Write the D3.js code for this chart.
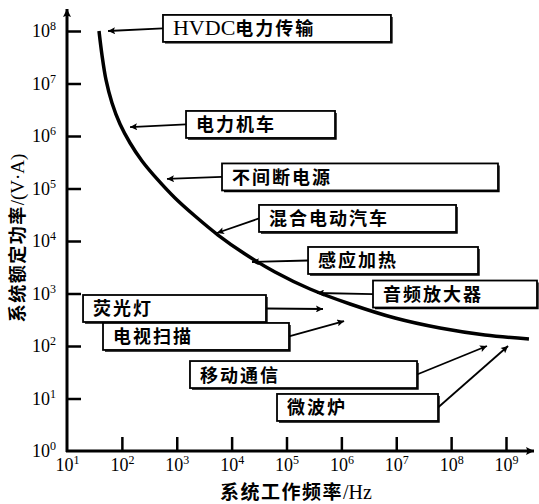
<!DOCTYPE html>
<html>
<head>
<meta charset="utf-8">
<script src="https://cdn.jsdelivr.net/npm/d3@7/dist/d3.min.js"></script>
<style>
  body { margin: 0; background: #fff; }
  svg { display: block; }
</style>
</head>
<body>
<svg id="chart" width="539" height="504"></svg>
<script>
"use strict";

// boundary curve: frequency (Hz) vs rated power (V·A)
const curve_freq  = [38.3, 43.4, 51.4, 66.1, 92.4, 141, 233, 437, 929, 2150, 5650, 17540, 61700, 2.68e5, 1.44e6, 9.49e6, 6.27e7, 4.14e8, 2.62e9]
const curve_power = [1e8, 3.49e7, 1.17e7, 4.25e6, 1.69e6, 7.36e5, 3.34e5, 1.52e5, 6.59e4, 2.99e4, 1.3e4, 5650, 2570, 1218, 631, 341, 220, 162, 136]

// tick values
const x_ticks = [1e1, 1e2, 1e3, 1e4, 1e5, 1e6, 1e7, 1e8, 1e9]
const y_ticks = [1e0, 1e1, 1e2, 1e3, 1e4, 1e5, 1e6, 1e7, 1e8]

// application labels, box span (Hz) and level (V·A), arrow tips
const app_names  = ['HVDC电力传输', '电力机车', '不间断电源', '混合电动汽车', '感应加热', '音频放大器', '荧光灯', '电视扫描', '移动通信', '微波炉']
const box_from   = [561, 1476, 6680, 31550, 2.47e5, 3.77e6, 19.6, 45.3, 1742, 67140]
const box_to     = [8.0e6, 7.66e5, 7.14e8, 1.23e8, 3.09e8, 3.67e9, 42270, 1.11e5, 2.39e7, 5.77e7]
const box_level  = [1.12e8, 1.66e6, 1.66e5, 2.69e4, 4256, 977, 518, 152, 28.6, 6.75]
const tip_freq   = [56, 141, 664, 5400, 23500, 3.6e5, 4.62e5, 1.12e6, 4.5e8, 1.09e9]
const tip_power  = [1e8, 1.48e6, 1.52e5, 1.42e4, 3981, 1023, 507, 299, 100, 100]

const x_title = ['系统工作频率', '/Hz']
const y_title = ['系统额定功率', '/(V·A)']

const cjk = '"Noto Sans CJK SC", "Noto Sans", sans-serif'
const serif = '"Liberation Serif", "DejaVu Serif", serif'

const x = d3.scaleLog().domain([1e1, 1e9]).range([67, 506])
const y = d3.scaleLog().domain([1e0, 1e8]).range([451, 31])

const svg = d3.select('#chart')

const defs = svg.append('defs')
defs.append('marker')
   .attr('id', 'tip')
   .attr('viewBox', '0 0 10 10')
   .attr('refX', 10).attr('refY', 5)
   .attr('markerWidth', 9).attr('markerHeight', 7)
   .attr('markerUnits', 'userSpaceOnUse')
   .attr('orient', 'auto')
   .append('path').attr('d', 'M0,0 L10,5 L0,10 L2,5 Z').attr('fill', '#000')
defs.append('marker')
   .attr('id', 'axtip')
   .attr('viewBox', '0 0 10 10')
   .attr('refX', 10).attr('refY', 5)
   .attr('markerWidth', 10).attr('markerHeight', 8)
   .attr('markerUnits', 'userSpaceOnUse')
   .attr('orient', 'auto')
   .append('path').attr('d', 'M0,0 L10,5 L0,10 L2,5 Z').attr('fill', '#000')

function pow_label(sel) {
   sel.each(function (d) {
      const t = d3.select(this)
      const e = Math.round(Math.log10(d))
      t.text(null)
      t.append('tspan').text('10')
      t.append('tspan').attr('font-size', 12).attr('dy', -7).text(e)
   })
}

// y axis
const gy = svg.append('g').attr('transform', 'translate(67,0)')
   .call(d3.axisLeft(y).tickValues(y_ticks).tickSizeInner(-14).tickSizeOuter(0).tickPadding(11))
gy.select('.domain').remove()
gy.selectAll('.tick line').attr('stroke', '#000').attr('stroke-width', 2.5)
   .filter(d => d === 1).remove()
gy.selectAll('.tick text')
   .attr('font-family', serif).attr('font-size', 18).attr('fill', '#000')
   .call(pow_label)

// x axis
const gx = svg.append('g').attr('transform', 'translate(0,451)')
   .call(d3.axisBottom(x).tickValues(x_ticks).tickSizeInner(-14).tickSizeOuter(0).tickPadding(7))
gx.select('.domain').remove()
gx.selectAll('.tick line').attr('stroke', '#000').attr('stroke-width', 2.5)
   .filter(d => d === 10).remove()
gx.selectAll('.tick text')
   .attr('font-family', serif).attr('font-size', 18).attr('fill', '#000')
   .call(pow_label)

// axis lines with arrows
svg.append('line')
   .attr('x1', 67).attr('y1', 452).attr('x2', 67).attr('y2', 9)
   .attr('stroke', '#000').attr('stroke-width', 3).attr('marker-end', 'url(#axtip)')
svg.append('line')
   .attr('x1', 66).attr('y1', 451).attr('x2', 534).attr('y2', 451)
   .attr('stroke', '#000').attr('stroke-width', 3).attr('marker-end', 'url(#axtip)')

// boundary curve
const line = d3.line()
   .x(d => x(d[0]))
   .y(d => y(d[1]))
   .curve(d3.curveCatmullRom.alpha(0.5))
svg.append('path')
   .datum(d3.zip(curve_freq, curve_power))
   .attr('d', line)
   .attr('fill', 'none')
   .attr('stroke', '#000')
   .attr('stroke-width', 3.5)

// application boxes and arrows
const apps = app_names.map((name, i) => ({
   name,
   x0: x(box_from[i]), x1: x(box_to[i]), cy: y(box_level[i]),
   tx: x(tip_freq[i]), ty: y(tip_power[i])
}))
const box_h = 27

const ag = svg.append('g').selectAll('g').data(apps).enter().append('g')

ag.append('line')
   .attr('x1', d => d.tx < d.x0 ? d.x0 : d.x1)
   .attr('y1', d => d.cy)
   .attr('x2', d => d.tx)
   .attr('y2', d => d.ty)
   .attr('stroke', '#000').attr('stroke-width', 1.8)
   .attr('marker-end', 'url(#tip)')

ag.append('rect')
   .attr('x', d => d.x0)
   .attr('y', d => d.cy - box_h / 2)
   .attr('width', d => d.x1 - d.x0)
   .attr('height', box_h)
   .attr('fill', '#fff')
   .attr('stroke', '#000').attr('stroke-width', 1.8)
ag.append('path')
   .attr('d', d => `M${d.x1 + 1},${d.cy - box_h / 2 + 2} V${d.cy + box_h / 2 + 1} H${d.x0 + 2}`)
   .attr('fill', 'none').attr('stroke', '#000').attr('stroke-width', 1.4)

ag.append('text')
   .attr('x', d => d.x0 + 10)
   .attr('y', d => d.cy + 7)
   .attr('font-family', cjk).attr('font-weight', 700).attr('font-size', 18)
   .attr('letter-spacing', 2)
   .attr('fill', '#000')
   .each(function (d) {
      const t = d3.select(this)
      const m = d.name.match(/^([A-Za-z]+)(.*)$/)
      if (m) {
         t.append('tspan').attr('font-family', serif).attr('font-weight', 400)
            .attr('font-size', 22).attr('letter-spacing', 0).text(m[1])
         t.append('tspan').text(m[2])
      } else {
         t.text(d.name)
      }
   })

// axis titles
const xt = svg.append('text')
   .attr('x', 296).attr('y', 499)
   .attr('text-anchor', 'middle')
   .attr('fill', '#000')
xt.append('tspan').attr('font-family', cjk).attr('font-weight', 700).attr('font-size', 19)
   .attr('letter-spacing', 1.5).text(x_title[0])
xt.append('tspan').attr('font-family', serif).attr('font-size', 20).text(x_title[1])

const yt = svg.append('text')
   .attr('transform', 'translate(24,238) rotate(-90)')
   .attr('text-anchor', 'middle')
   .attr('fill', '#000')
yt.append('tspan').attr('font-family', cjk).attr('font-weight', 700).attr('font-size', 18)
   .attr('letter-spacing', 1.5).text(y_title[0])
yt.append('tspan').attr('font-family', serif).attr('font-size', 19).text(y_title[1])
</script>
</body>
</html>
